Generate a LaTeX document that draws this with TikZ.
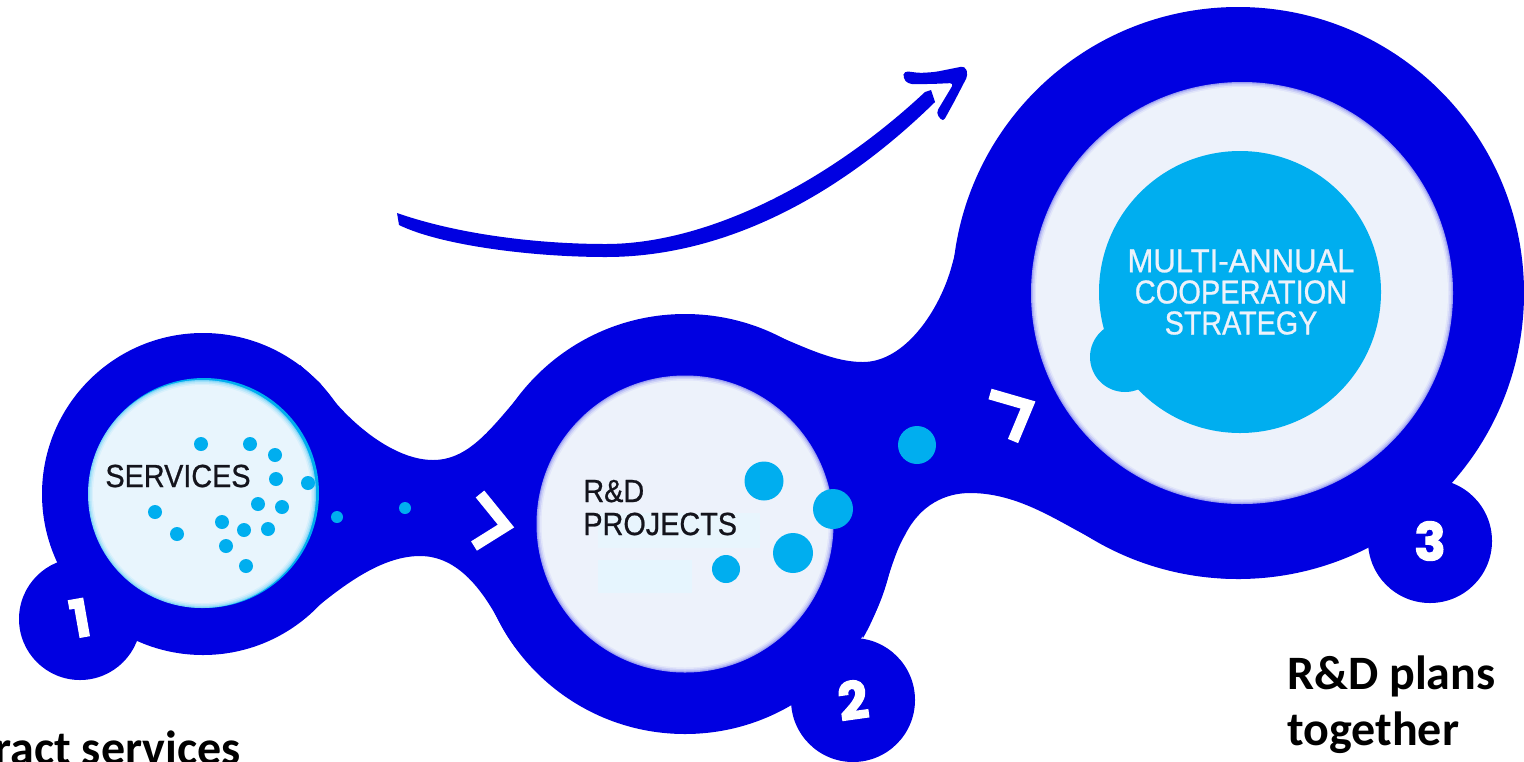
\documentclass[tikz,border=0pt]{standalone}
\usepackage{fontspec}
\setmainfont{Liberation Sans}
\newfontfamily\innerfont[FakeBold=0.8]{Liberation Sans}
\newfontfamily\labelfont{Carlito}
\newfontfamily\numfont[FakeBold=2.5]{Poppins}
\definecolor{blob}{RGB}{0,0,225}
\definecolor{dotc}{RGB}{0,174,239}
\definecolor{paleA}{RGB}{232,245,253}
\definecolor{paleB}{RGB}{237,242,251}
\definecolor{paleC}{RGB}{232,245,253}
\definecolor{paleD}{RGB}{230,245,254}
\definecolor{inktext}{RGB}{20,20,28}
\newcommand{\softdisc}[5]{% x y r colour rim
  \fill[#5] (#1,#2) circle[radius=#3];
  \fill[#5!70!#4] (#1,#2) circle[radius=#3-1];
  \fill[#5!40!#4] (#1,#2) circle[radius=#3-2];
  \fill[#5!15!#4] (#1,#2) circle[radius=#3-3.5];
  \fill[#4] (#1,#2) circle[radius=#3-5];
}
\tikzset{
  chevron/.style={draw=white,line width=5.5pt,miter limit=10,line cap=butt,line join=miter},
  caption/.style={font=\labelfont\bfseries\fontsize{24}{28}\selectfont,text=black,inner sep=0pt},
  inner/.style={font=\innerfont\fontsize{16}{16}\selectfont,text=inktext,inner sep=0pt},
  strategy/.style={font=\innerfont\fontsize{16.5}{16.5}\selectfont,text=paleB,inner sep=0pt},
  badge/.style={font=\numfont\bfseries\fontsize{26}{26}\selectfont,text=white,inner sep=0pt}
}
\begin{document}
\begin{tikzpicture}[x=0.5pt,y=-0.5pt]
\useasboundingbox (0,0) rectangle (1524,761);
\fill[white] (0,0) rectangle (1524,761);
% blue body
\fill[blob] (203,494) circle[radius=161];
\fill[blob] (685,524) circle[radius=210];
\fill[blob] (1238,293) circle[radius=286];
\fill[blob] (300,365) -- (320,383) .. controls (350,425) and (395,460) .. (433,460)
  .. controls (468,460) and (490,430) .. (520,395) .. controls (530,384) and (540,374) .. (553,363)
  -- (535,668) .. controls (520,655) and (510,642) .. (500,623)
  .. controls (480,585) and (455,556) .. (420,556) .. controls (385,556) and (350,580) .. (317,607) -- (295,625) -- cycle;
\fill[blob] (740,322) .. controls (790,338) and (825,362) .. (863,362)
  .. controls (905,362) and (940,310) .. (952,265) -- (962,228)
  -- (1241,579) .. controls (1190,579) and (1140,560) .. (1097,541)
  .. controls (1060,523) and (1020,493) .. (970,493)
  .. controls (945,493) and (920,505) .. (905,535)
  .. controls (890,560) and (885,600) .. (863,638) -- cycle;
% badges
\fill[blob] (80,619) circle[radius=61];
\fill[blob] (853,700) circle[radius=62];
\fill[blob] (1430,541) circle[radius=62];
% openings
\fill[dotc] (204,493) circle[radius=115];
\softdisc{202}{494}{114}{paleA}{paleA!55!dotc}
\softdisc{685}{524}{148.5}{paleB}{blob!35!paleB}
\softdisc{1242}{293}{211}{paleB}{blob!35!paleB}
\fill[paleC] (598,513) rectangle (760,548);
\fill[paleD] (598,560) rectangle (692,593);
% strategy disc
\fill[dotc] (1240,292) circle[radius=141];
\fill[dotc] (1125,357) circle[radius=35];
% dots
\foreach \x/\y in {201/444,250/444,275/455,276/479,308/483,258/504,282/507,222/522,244/530,268/529,226/546,246/566,155/512,177/534}
  \fill[dotc] (\x,\y) circle[radius=7];
\fill[dotc] (337,517) circle[radius=6];
\fill[dotc] (405,508) circle[radius=6];
\fill[dotc] (764,481) circle[radius=19.5];
\fill[dotc] (833,509) circle[radius=20];
\fill[dotc] (793,553) circle[radius=20];
\fill[dotc] (726,569) circle[radius=14];
\fill[dotc] (917,445) circle[radius=19];
% chevrons
\draw[chevron] (480,494) -- (506,526) -- (474,546);
\draw[chevron] (990,394) -- (1028,405) -- (1013,441);
% rising arrow
\fill[blob] (397,213) .. controls (460,235) and (540,244) .. (606,244)
  .. controls (700,244) and (820,190) .. (925,92) -- (931,90) -- (935,102)
  .. controls (830,205) and (715,257) .. (606,257)
  .. controls (530,257) and (440,245) .. (399,225) -- cycle;
\fill[blob,rounded corners=2pt] (904,71) -- (920,73) -- (935,72) -- (965,66) -- (968,75) -- (954,102) -- (943,122) -- (936,113) -- (954,83) -- (931,84) -- (908,84) -- (903,78) -- cycle;
% texts
\node[inner] (services) at (178,476) {\scalebox{.9}[1]{SERVICES}};
\node[inner,anchor=base west] (rd) at (583,502) {\scalebox{.9}[1]{R\&D}};
\node[inner,anchor=base west] (projects) at (583,535) {\scalebox{.9}[1]{PROJECTS}};
\node[strategy] (multi) at (1241,261) {\scalebox{.94}[1]{MULTI-ANNUAL}};
\node[strategy] (coop) at (1241,292) {\scalebox{.88}[1]{COOPERATION}};
\node[strategy] (strat) at (1241,323) {\scalebox{.87}[1]{STRATEGY}};
\node[badge,rotate=10] (n1) at (80,618) {1};
\node[badge,rotate=8] (n2) at (853,700) {2};
\node[badge] (n3) at (1430,541) {3};
\node[caption,anchor=base west] (plans) at (1287,689) {R\&D plans};
\node[caption,anchor=base west] (together) at (1287,745) {together};
\node[caption,anchor=base east] (contract) at (241,764) {ract services};
\end{tikzpicture}
\end{document}
